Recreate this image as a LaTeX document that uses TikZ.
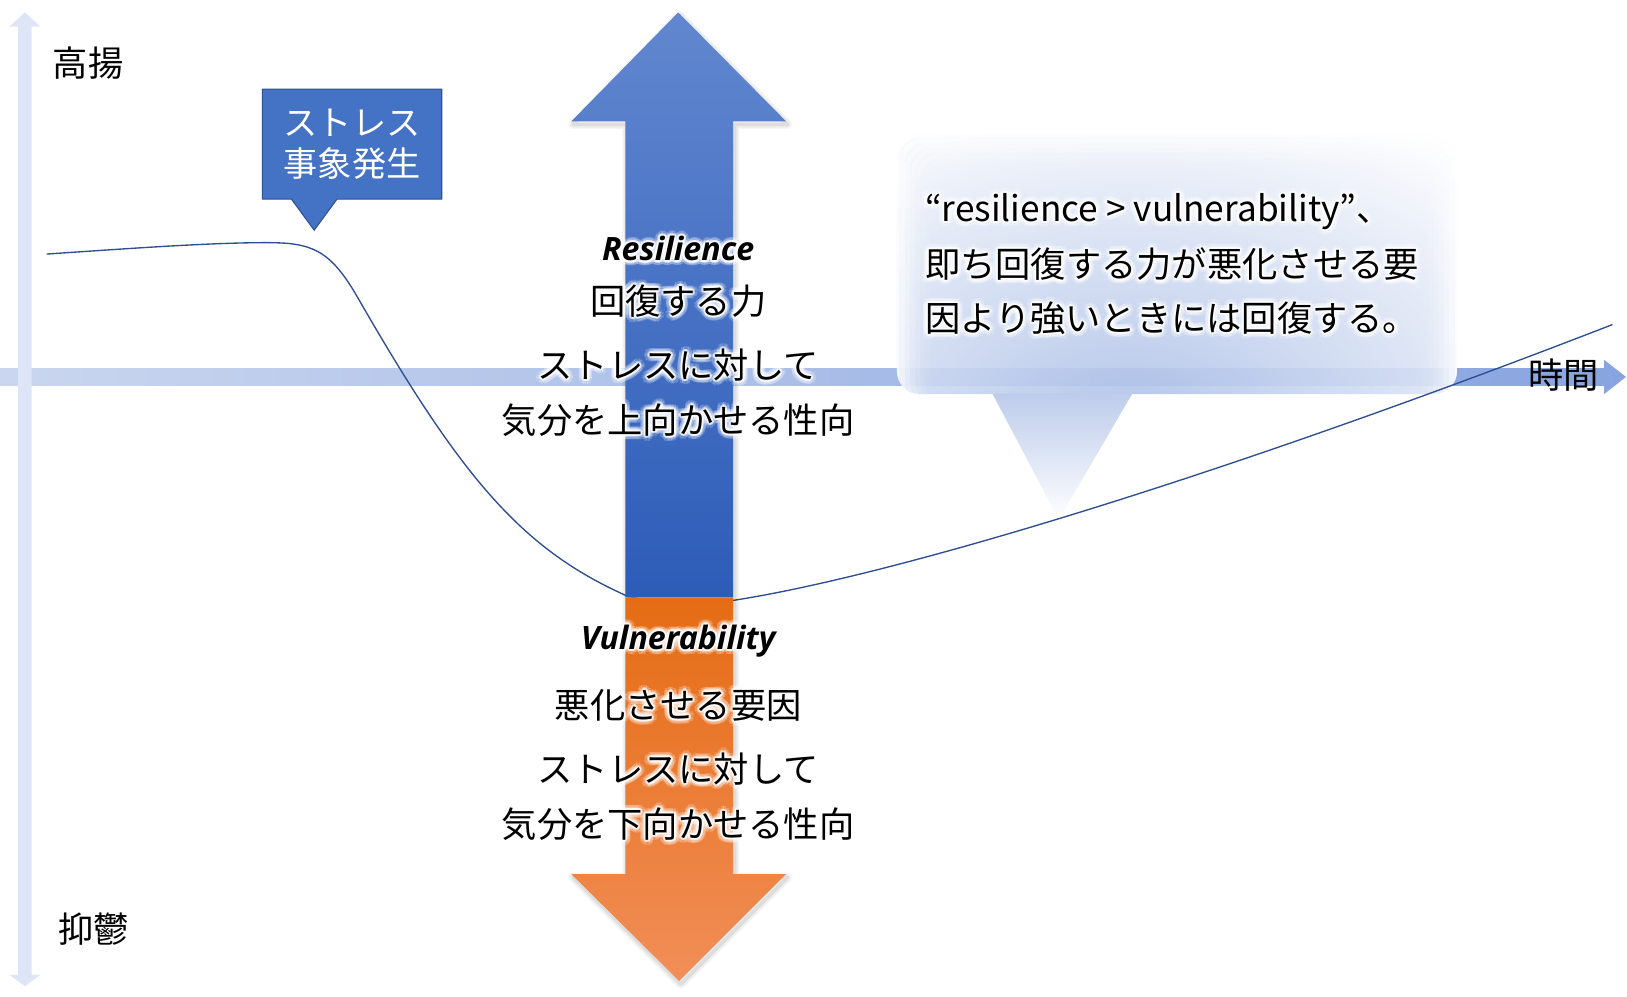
\documentclass[tikz,border=0pt]{standalone}
\usepackage{fontspec}
\setmainfont{Noto Sans CJK JP}
\newfontfamily\latbi{Open Sans}
\usetikzlibrary{calc}
\definecolor{axislight}{RGB}{222,229,246}
\definecolor{axismid}{RGB}{155,180,230}
\definecolor{haxL}{RGB}{202,214,239}
\definecolor{haxR}{RGB}{136,164,224}
\definecolor{curvec}{RGB}{47,78,145}
\definecolor{blueT}{RGB}{97,135,207}
\definecolor{blueB}{RGB}{45,92,184}
\definecolor{orT}{RGB}{229,108,20}
\definecolor{orB}{RGB}{241,142,88}
\definecolor{boxfill}{RGB}{68,114,196}
\definecolor{boxline}{RGB}{47,82,143}
\definecolor{callB}{RGB}{174,193,232}
\definecolor{callP}{RGB}{186,202,235}
\newcommand{\jpfont}{\fontsize{34}{40}\selectfont}
\newcommand{\enfont}{\latbi\bfseries\itshape\fontsize{31}{36}\selectfont}
\newcommand{\glowtext}[5][]{%
  \foreach \ang in {0,30,...,330} {
    \node[font=#4, text=white, text opacity=0.5, inner sep=0, #1] at ($(#3)+(\ang:2.2)$) {#5};
    \node[font=#4, text=white, text opacity=0.22, inner sep=0, #1] at ($(#3)+(\ang+15:5)$) {#5};
  }
  \node[font=#4, text=black, inner sep=0, #1] (#2) at (#3) {#5};
}
\newcommand{\arrowoutline}{(654,12) -- (758,117) -- (707,117) -- (707,843) -- (758,843) -- (655,946) -- (551,843) -- (603,843) -- (603,117) -- (551,117) -- cycle}
\tikzset{
  curveline/.style={draw=curvec, line width=1.3pt},
  lab/.style={font=\jpfont, text=black, inner sep=0},
}
\begin{document}
\begin{tikzpicture}[x=1pt,y=-1pt]
\fill[white] (0,0) rectangle (1569,961);
\path[use as bounding box] (0,0) rectangle (1569,961);

% axes
\shade[left color=haxL, right color=haxR]
  (0,355) -- (1547,355) -- (1547,347) -- (1568,363.5) -- (1547,380) -- (1547,372) -- (0,372) -- cycle;
\shade[top color=axislight, middle color=axismid, bottom color=axislight]
  (17.5,25.7) -- (9,25.7) -- (24,12) -- (39,25.7) -- (30.5,25.7) -- (30.5,940) -- (39,940) -- (24,951) -- (9,940) -- (17.5,940) -- cycle;

% soft callout
\begin{scope}
  \clip[rounded corners=22] (865,130) rectangle (1405,380);
  \shade[inner color=callB, outer color=white, opacity=0.9] (1090,400) ellipse [x radius=520, y radius=330];
  \foreach \i/\o in {0/0.85,1/0.65,2/0.47,3/0.32,4/0.2,5/0.11,6/0.05} {
    \draw[white, draw opacity=\o, line width=5, rounded corners=22]
      (865+5*\i,130+5*\i) rectangle (1405-5*\i,392);
  }
\end{scope}
\shade[top color=callP, bottom color=white, opacity=0.95]
  (957,379.5) -- (1092,379.5) -- (1021,501) -- cycle;

% mood curve
\coordinate (c0) at (45,245);
\coordinate (c1) at (257,234);
\coordinate (c2) at (345,287);
\coordinate (c3) at (603,574);
\coordinate (c4) at (707,579);
\coordinate (c5) at (1555,313);
\draw[curveline] (c0) .. controls (120,240) and (200,234) .. (c1)
  .. controls (300,234) and (318,240) .. (c2)
  .. controls (445,461) and (503,529) .. (c3)
  .. controls (640,585) and (670,583) .. (c4)
  .. controls (850,557) and (1150,470) .. (c5);

% big arrow shadow
\foreach \w/\o in {9/0.035,6/0.045,3/0.06} {
  \draw[black, draw opacity=\o, line width=\w, line join=round, shift={(1.5,3)}] \arrowoutline;
}
% big arrow
\shade[top color=blueT, bottom color=blueB]
  (654,12) -- (758,117) -- (707,117) -- (707,576) -- (603,576) -- (603,117) -- (551,117) -- cycle;
\shade[top color=orT, bottom color=orB]
  (603,576) -- (707,576) -- (707,843) -- (758,843) -- (655,946) -- (551,843) -- (603,843) -- cycle;

% arrow texts
\glowtext{res}{654,240}{\enfont}{Resilience}
\glowtext{resjp}{654,290}{\jpfont}{回復する力}
\glowtext{resa}{654,352}{\jpfont}{ストレスに対して}
\glowtext{resb}{654,405}{\jpfont}{気分を上向かせる性向}
\glowtext{vul}{654,618}{\enfont}{Vulnerability}
\glowtext{vuljp}{654,680}{\jpfont}{悪化させる要因}
\glowtext{vula}{654,742}{\jpfont}{ストレスに対して}
\glowtext{vulb}{654,795}{\jpfont}{気分を下向かせる性向}

% callout texts
\glowtext[anchor=west]{cl1}{892,204}{\jpfont}{“resilience > vulnerability”、}
\glowtext[anchor=west]{cl2}{892,255}{\jpfont}{即ち回復する力が悪化させる要}
\glowtext[anchor=west]{cl3}{892,307}{\jpfont}{因より強いときには回復する。}

% stress event box
\filldraw[fill=boxfill, draw=boxline, line width=1pt]
  (253,86) -- (426,86) -- (426,192) -- (325,192) -- (303,222) -- (281,192) -- (253,192) -- cycle;
\node[font=\fontsize{33}{40}\selectfont, text=white, align=center, inner sep=0] (stress) at (339.5,139) {ストレス\\事象発生};

% axis labels
\node[lab] (hi) at (85,61) {高揚};
\node[lab] (lo) at (90,896) {抑鬱};
\node[lab] (time) at (1508,362) {時間};
\end{tikzpicture}
\end{document}
